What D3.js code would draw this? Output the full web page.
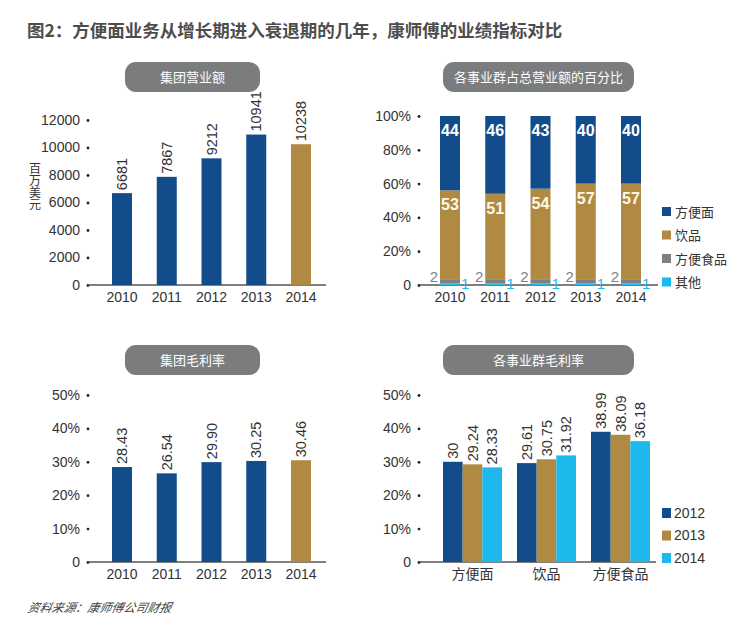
<!DOCTYPE html>
<html>
<head>
<meta charset="utf-8">
<script src="https://cdn.jsdelivr.net/npm/d3@7"></script>
<style>
  body { margin: 0; background: #fff; }
  svg text { font-family: "Liberation Sans", "Noto Sans CJK SC", sans-serif; }
</style>
</head>
<body>
<svg width="752" height="628"></svg>
<script>
// data
const years = ["2010", "2011", "2012", "2013", "2014"];
const revenue = [6681, 7867, 9212, 10941, 10238];
const revenueTicks = [0, 2000, 4000, 6000, 8000, 10000, 12000];

const segKeys = ["方便面", "饮品", "方便食品", "其他"];
const shareNoodle = [44, 46, 43, 40, 40];
const shareDrink = [53, 51, 54, 57, 57];
const shareFood = [2, 2, 2, 2, 2];
const shareOther = [1, 1, 1, 1, 1];
const shareTicks = [0, 20, 40, 60, 80, 100];

const grossMargin = [28.43, 26.54, 29.90, 30.25, 30.46];
const grossLabels = ["28.43", "26.54", "29.90", "30.25", "30.46"];
const marginTicks = [0, 10, 20, 30, 40, 50];

const segCats = ["方便面", "饮品", "方便食品"];
const segYears = ["2012", "2013", "2014"];
const segMargin2012 = [30, 29.61, 38.99];
const segMargin2013 = [29.24, 30.75, 38.09];
const segMargin2014 = [28.33, 31.92, 36.18];

const BLUE = "#124c8a", GOLD = "#b08a42", GREY = "#7f8084", CYAN = "#1db9ec";
const TEXT = "#333";

const svg = d3.select("svg");

// chart title and source
svg.append("text")
  .attr("x", 27).attr("y", 37)
  .attr("font-size", 17.5).attr("font-weight", "bold")
  .attr("fill", "#4d4d4d")
  .style("font-family", "'Noto Sans CJK SC', sans-serif")
  .text("图2：方便面业务从增长期进入衰退期的几年，康师傅的业绩指标对比");

svg.append("text")
  .attr("x", 27).attr("y", 612)
  .attr("font-size", 12).attr("font-style", "italic")
  .attr("fill", "#444")
  .style("font-family", "'Noto Sans CJK SC', sans-serif")
  .attr("transform", "skewX(-12) translate(130,0)")
  .text("资料来源：康师傅公司财报");

// grey rounded heading pill
function pill(x0, x1, yTop, label) {
  svg.append("rect")
    .attr("x", x0).attr("y", yTop)
    .attr("width", x1 - x0).attr("height", 30)
    .attr("rx", 11)
    .attr("fill", "#7b7c7e");
  svg.append("text")
    .attr("x", (x0 + x1) / 2).attr("y", yTop + 20)
    .attr("text-anchor", "middle")
    .attr("font-size", 13).attr("fill", "#fff")
    .style("font-family", "'Noto Sans CJK SC', sans-serif")
    .text(label);
}

// y axis with dot ticks and a baseline
function yAxisDots(y, ticks, fmt, xDot, xEnd) {
  const g = svg.append("g")
    .attr("transform", `translate(${xDot},0)`)
    .call(d3.axisLeft(y).tickValues(ticks).tickSize(0).tickPadding(8).tickFormat(fmt));
  g.select(".domain").remove();
  g.selectAll(".tick text").attr("font-size", 14).attr("fill", TEXT)
    .style("font-family", "'Liberation Sans', sans-serif");
  g.selectAll(".tick").append("circle").attr("r", 1.4).attr("fill", "#222");
  svg.append("line")
    .attr("x1", xDot).attr("x2", xEnd)
    .attr("y1", y(0)).attr("y2", y(0))
    .attr("stroke", "#555").attr("stroke-width", 1.5);
}

function xLabels(x, cats, yPos, cjk) {
  svg.append("g").selectAll("text")
    .data(cats).join("text")
    .attr("x", d => x(d)).attr("y", yPos)
    .attr("text-anchor", "middle")
    .attr("font-size", 14).attr("fill", TEXT)
    .style("font-family", cjk ? "'Noto Sans CJK SC', sans-serif" : "'Liberation Sans', sans-serif")
    .text(d => d);
}

function rotLabel(g, x, y, txt) {
  g.append("text")
    .attr("transform", `translate(${x},${y - 3}) rotate(-90)`)
    .attr("dy", "0.35em")
    .attr("font-size", 14.5).attr("fill", TEXT)
    .text(txt);
}

// ---------- panel 1: group revenue ----------
pill(125, 260, 62, "集团营业额");
{
  const x = d3.scalePoint().domain(years).range([122, 301]);
  const y = d3.scaleLinear().domain([0, 12000]).range([285, 120]);
  yAxisDots(y, revenueTicks, d3.format("d"), 88, 326);
  const g = svg.append("g");
  g.selectAll("rect").data(years).join("rect")
    .attr("x", d => x(d) - 10).attr("width", 20)
    .attr("y", (d, i) => y(revenue[i]))
    .attr("height", (d, i) => y(0) - y(revenue[i]))
    .attr("fill", (d, i) => i === years.length - 1 ? GOLD : BLUE);
  years.forEach((d, i) => rotLabel(g, x(d), y(revenue[i]), String(revenue[i])));
  xLabels(x, years, 302, false);
  // vertical unit label, upright characters stacked top to bottom
  svg.append("text")
    .attr("x", 35).attr("y", 162)
    .attr("font-size", 12).attr("fill", TEXT)
    .style("writing-mode", "vertical-rl")
    .style("font-family", "'Noto Sans CJK SC', sans-serif")
    .text("百万美元");
}

// ---------- panel 2: revenue share by segment ----------
pill(443, 634, 62, "各事业群占总营业额的百分比");
{
  const rows = years.map((yr, i) => ({
    year: yr, "方便面": shareNoodle[i], "饮品": shareDrink[i],
    "方便食品": shareFood[i], "其他": shareOther[i]
  }));
  const stackKeys = ["其他", "方便食品", "饮品", "方便面"];
  const series = d3.stack().keys(stackKeys)(rows);
  const color = d3.scaleOrdinal().domain(segKeys).range([BLUE, GOLD, GREY, CYAN]);
  const x = d3.scalePoint().domain(years).range([450, 631]);
  const y = d3.scaleLinear().domain([0, 100]).range([285, 116]);
  yAxisDots(y, shareTicks, d => d === 0 ? "0" : d + "%", 419, 658);

  const g = svg.append("g");
  g.selectAll("g").data(series).join("g")
    .attr("fill", s => color(s.key))
    .selectAll("rect").data(s => s).join("rect")
    .attr("x", d => x(d.data.year) - 10).attr("width", 20)
    .attr("y", d => y(d[1])).attr("height", d => y(d[0]) - y(d[1]));

  // white labels inside the two big segments
  ["方便面", "饮品"].forEach(k => {
    const s = series.find(q => q.key === k);
    g.append("g").selectAll("text").data(s).join("text")
      .attr("x", d => x(d.data.year)).attr("y", d => y(d[1]) + 20)
      .attr("text-anchor", "middle")
      .attr("font-size", 16).attr("font-weight", "bold")
      .attr("fill", k === "饮品" ? "#fff8e8" : "#fff")
      .text(d => d.data[k]);
  });
  // small segment labels beside the bar
  g.append("g").selectAll("text").data(rows).join("text")
    .attr("x", d => x(d.year) - 12).attr("y", y(0) - 3)
    .attr("text-anchor", "end")
    .attr("font-size", 15).attr("fill", GREY)
    .text(d => d["方便食品"]);
  g.append("g").selectAll("text").data(rows).join("text")
    .attr("x", d => x(d.year) + 11).attr("y", y(0) + 4)
    .attr("text-anchor", "start")
    .attr("font-size", 15).attr("fill", CYAN)
    .text(d => d["其他"]);

  xLabels(x, years, 302, false);

  const lg = svg.append("g").selectAll("g").data(segKeys).join("g")
    .attr("transform", (d, i) => `translate(662,${212 + i * 23.5})`);
  lg.append("rect").attr("x", 0).attr("y", -5).attr("width", 9).attr("height", 9)
    .attr("fill", d => color(d));
  lg.append("text").attr("x", 13).attr("y", 0).attr("dy", "0.35em")
    .attr("font-size", 13).attr("fill", TEXT)
    .style("font-family", "'Noto Sans CJK SC', sans-serif")
    .text(d => d);
}

// ---------- panel 3: group gross margin ----------
pill(125, 260, 345, "集团毛利率");
{
  const x = d3.scalePoint().domain(years).range([122, 301]);
  const y = d3.scaleLinear().domain([0, 50]).range([562, 395]);
  yAxisDots(y, marginTicks, d => d === 0 ? "0" : d + "%", 88, 326);
  const g = svg.append("g");
  g.selectAll("rect").data(years).join("rect")
    .attr("x", d => x(d) - 10).attr("width", 20)
    .attr("y", (d, i) => y(grossMargin[i]))
    .attr("height", (d, i) => y(0) - y(grossMargin[i]))
    .attr("fill", (d, i) => i === years.length - 1 ? GOLD : BLUE);
  years.forEach((d, i) => rotLabel(g, x(d), y(grossMargin[i]), grossLabels[i]));
  xLabels(x, years, 579, false);
}

// ---------- panel 4: gross margin by segment ----------
pill(443, 634, 345, "各事业群毛利率");
{
  const vals = [segMargin2012, segMargin2013, segMargin2014];
  const color = d3.scaleOrdinal().domain(segYears).range([BLUE, GOLD, CYAN]);
  const x0 = d3.scalePoint().domain(segCats).range([472.5, 620.5]);
  const x1 = d3.scaleBand().domain(segYears).range([-29.5, 29.5]);
  const y = d3.scaleLinear().domain([0, 50]).range([562, 395]);
  yAxisDots(y, marginTicks, d => d === 0 ? "0" : d + "%", 419, 656);

  const cells = [];
  segCats.forEach((c, ci) => segYears.forEach((yr, yi) =>
    cells.push({ cat: c, year: yr, v: vals[yi][ci] })));

  const g = svg.append("g");
  g.selectAll("rect").data(cells).join("rect")
    .attr("x", d => x0(d.cat) + x1(d.year)).attr("width", x1.bandwidth())
    .attr("y", d => y(d.v)).attr("height", d => y(0) - y(d.v))
    .attr("fill", d => color(d.year));
  cells.forEach(d => rotLabel(g, x0(d.cat) + x1(d.year) + x1.bandwidth() / 2, y(d.v), String(d.v)));

  xLabels(x0, segCats, 579, true);

  const lg = svg.append("g").selectAll("g").data(segYears).join("g")
    .attr("transform", (d, i) => `translate(662,${513 + i * 22.5})`);
  lg.append("rect").attr("x", 0).attr("y", -5).attr("width", 9).attr("height", 10)
    .attr("fill", d => color(d));
  lg.append("text").attr("x", 12).attr("y", 0).attr("dy", "0.35em")
    .attr("font-size", 14).attr("fill", TEXT)
    .text(d => d);
}
</script>
</body>
</html>
